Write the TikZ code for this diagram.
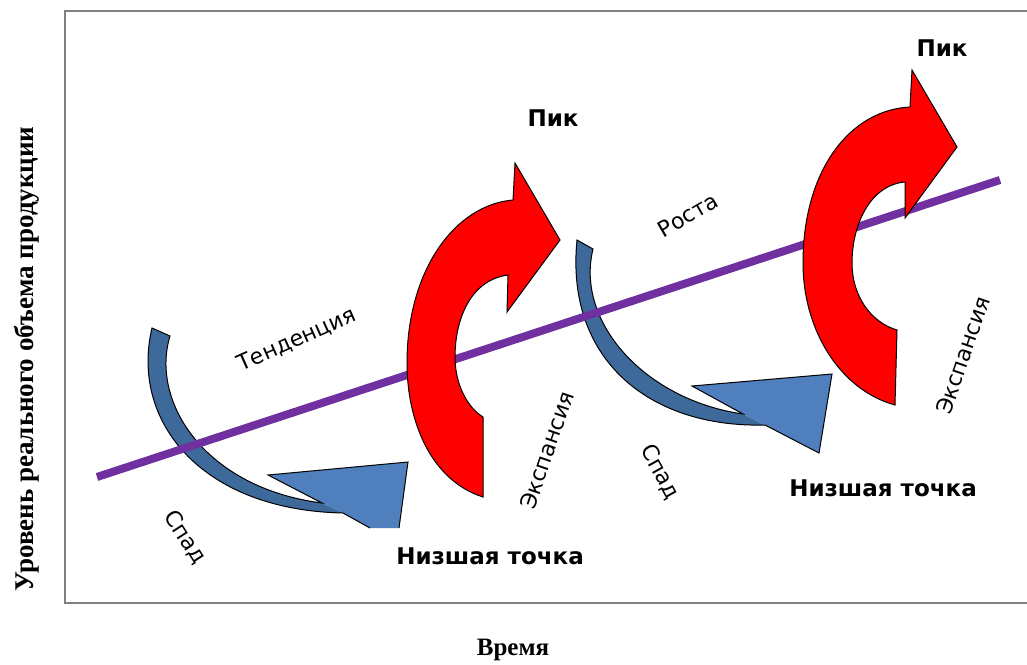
\documentclass[tikz,border=0pt]{standalone}
\usepackage{fontspec}
\setmainfont{Liberation Serif}
\newfontfamily\lblfont{DejaVu Sans}
\usetikzlibrary{positioning}
\definecolor{trendpurple}{HTML}{7030A0}
\definecolor{shaftblue}{HTML}{3E6A9B}
\definecolor{headblue}{HTML}{4F7FBD}
\definecolor{axisgray}{HTML}{808080}
\tikzset{
  phase/.style={font=\lblfont\fontsize{11}{13}\selectfont},
  turnpoint/.style={font=\lblfont\bfseries\fontsize{11.5}{13}\selectfont},
  axislabel/.style={font=\bfseries\fontsize{12.5}{14}\selectfont},
  redarrow/.style={fill=red,draw=black,line width=0.5pt},
  blueedge/.style={draw=black,line width=0.5pt}
}

\begin{document}
\begin{tikzpicture}[x=0.5pt,y=-0.5pt]
  \useasboundingbox (0,0) rectangle (1027,664);
  % frame
  \draw[axisgray,line width=1pt] (1027,11)--(65,11)--(65,603)--(1027,603);
  % blue arrows (downturns)
  \fill[shaftblue] (152,328)--(170,336) .. controls (150,402) and (205,488) .. (322,503)
    --(343,513) .. controls (200,510) and (130,420) .. (152,328)--cycle;
  \fill[headblue] (268,475)--(408,462)--(399,528)--(370,528)--(343,513)--(322,503)--cycle;
  \draw[blueedge] (370,528)--(343,513) .. controls (200,510) and (130,420) .. (152,328)
    --(170,336) .. controls (150,402) and (205,488) .. (322,503)--(268,475)--(408,462)--(399,528);
  \fill[shaftblue] (577,240)--(593,249) .. controls (575,322) and (645,400) .. (743,414)
    --(765,425) .. controls (650,428) and (565,360) .. (577,240)--cycle;
  \fill[headblue] (692,386)--(832,374)--(819,453)--(765,425)--(743,414)--cycle;
  \draw[blueedge] (765,425) .. controls (650,428) and (565,360) .. (577,240)
    --(593,249) .. controls (575,322) and (645,400) .. (743,414)--(692,386)--(832,374)--(819,453)--cycle;
  % trend line
  \draw[trendpurple,line width=4pt] (97,477)--(1000,180);
  % red arrows (expansions)
  \draw[redarrow] (483,497) .. controls (430,480) and (407,420) .. (407,363)
    .. controls (407,270) and (455,205) .. (513,200)--(515,163)--(560,240)--(507,312)--(508,275)
    .. controls (470,280) and (455,320) .. (455,357) .. controls (455,385) and (468,408) .. (483,417)--cycle;
  \draw[redarrow] (895,405) .. controls (840,390) and (803,330) .. (803,263)
    .. controls (803,170) and (850,110) .. (910,107)--(912,70)--(957,147)--(905,218)--(905,182)
    .. controls (870,185) and (852,225) .. (852,263) .. controls (852,295) and (870,322) .. (897,330)--cycle;
  % labels
  \node[turnpoint] (peak1) at (553,118) {Пик};
  \node[turnpoint] (peak2) at (942,48) {Пик};
  \node[turnpoint] (trough1) at (490,556) {Низшая точка};
  \node[turnpoint] (trough2) at (883,488) {Низшая точка};
  \node[phase,rotate=24] (trend) at (297,340) {Тенденция};
  \node[phase,rotate=30] (growth) at (688,215) {Роста};
  \node[phase,rotate=-57] (fall1) at (185,537) {Спад};
  \node[phase,rotate=-61] (fall2) at (660,472) {Спад};
  \node[phase,rotate=71] (boom1) at (547,450) {Экспансия};
  \node[phase,rotate=71] (boom2) at (963,355) {Экспансия};
  \node[axislabel] (xlabel) at (513,650) {Время};
  \node[axislabel,rotate=90,font=\bfseries\fontsize{13.5}{15}\selectfont] (ylabel) at (27,359) {Уровень реального объема продукции};
\end{tikzpicture}
\end{document}
